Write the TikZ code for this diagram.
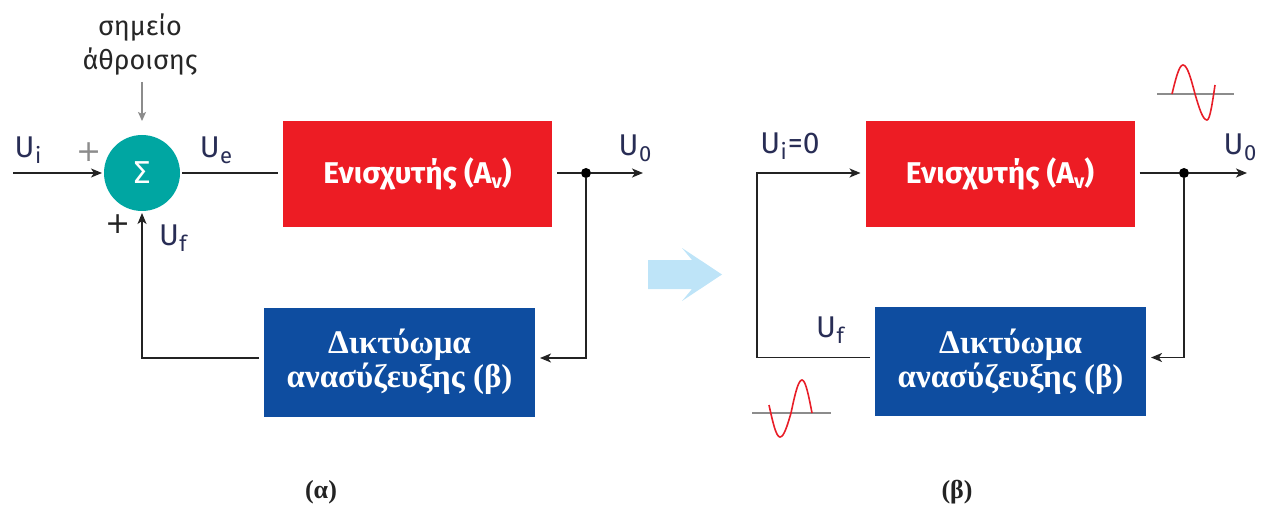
\documentclass[tikz,border=0pt]{standalone}
\usepackage{fontspec}
\setmainfont{Fira Sans}
\newfontfamily\serifgr{Liberation Serif}
\newfontfamily\symfont{DejaVu Sans}
\usetikzlibrary{arrows.meta,calc}

\definecolor{ampred}{RGB}{237,28,36}
\definecolor{netblue}{RGB}{14,77,160}
\definecolor{sumteal}{RGB}{0,166,162}
\definecolor{hintblue}{RGB}{190,228,248}
\definecolor{lblcol}{RGB}{40,45,85}
\definecolor{wirecol}{RGB}{35,35,35}
\definecolor{wavered}{RGB}{232,30,40}
\definecolor{axisgray}{RGB}{140,140,140}

% signal name with a lowered subscript
\newcommand{\Usig}[1]{U\kern0.5pt\raisebox{-6pt}{\fontsize{22}{22}\selectfont #1}}

\begin{document}
\begin{tikzpicture}[x=1pt,y=-1pt,
  wire/.style={draw=wirecol, line width=1.8pt},
  arr/.style={wire, -{Stealth[length=11pt,width=9pt,inset=3pt]}},
  ampbox/.style={rectangle, fill=ampred, text=white, minimum width=269pt,
    minimum height=106pt, outer sep=5pt, inner sep=0pt,
    font=\bfseries\fontsize{30}{30}\selectfont},
  netbox/.style={rectangle, fill=netblue, text=white, minimum width=271pt,
    minimum height=109pt, outer sep=5pt, inner sep=0pt, align=center,
    font=\serifgr\bfseries\fontsize{33}{34}\selectfont},
  sig/.style={text=lblcol, font=\fontsize{30}{30}\selectfont, inner sep=0pt},
  plus/.style={font=\symfont\fontsize{30}{30}\selectfont, inner sep=0pt},
  tag/.style={text=wirecol, font=\serifgr\bfseries\fontsize{26}{26}\selectfont},
  junction/.style={circle, fill=black, minimum size=10pt, inner sep=0pt},
  sine/.style={draw=wavered, line width=1.6pt},
  waveaxis/.style={draw=axisgray, line width=1.6pt}]

\useasboundingbox (0,0) rectangle (1266,513);

% ---------------- (a) closed loop with summing point ----------------
\node[circle, fill=sumteal, minimum size=76pt, inner sep=0pt, outer sep=2pt,
      text=white, font=\symfont\fontsize{30}{30}\selectfont] (sum) at (142,173) {Σ};
\node[text=black!85, align=center, inner sep=0pt,
      font=\fontsize{27}{34}\selectfont] (sumlbl) at (140,45) {σημείο\\άθροισης};
\draw[draw=axisgray, line width=1.4pt, -{Stealth[length=9pt,width=8pt,inset=2pt]},
      shorten <=6pt, shorten >=12pt] (sumlbl.south -| sum.north) -- (sum.north);

\node[ampbox] (amp1) at (417.5,174) {Ενισχυτής (A\raisebox{-5pt}{\fontsize{20}{20}\selectfont v})};
\node[netbox] (net1) at (399.5,362) {Δικτύωμα\\ανασύζευξης (β)};

\coordinate (in1) at (13,173);
\coordinate (out1) at (643,173);
\node[junction] (j1) at (586,173) {};

\draw[arr] (in1) -- (sum.west);
\draw[wire] (sum.east) -- (sum.east -| amp1.west);
\draw[wire] (amp1.east |- j1) -- (j1);
\draw[arr] (j1) -- (out1);
\draw[arr] (j1) |- ([yshift=4pt]net1.east);
\draw[arr] ([yshift=4pt]net1.west) -| (sum.south);

\node[sig] (ui) at (28,150) {\Usig{i}};
\node[plus, text=axisgray] (p1) at (89,152) {+};
\node[sig] (ue) at (216,150) {\Usig{e}};
\node[sig] (u0a) at (635,148) {\Usig{0}};
\node[plus, text=wirecol] (p2) at (118,224) {+};
\node[sig] (ufa) at (173,238) {\Usig{f}};

\node[tag] (capa) at (321,492) {(α)};

% ---------------- transition arrow ----------------
\fill[hintblue] (648,260) -- (692,260) -- (682,248) -- (722,274.5)
  -- (682,301) -- (692,289) -- (648,289) -- cycle;

% ---------------- (b) loop with zero input ----------------
\node[ampbox] (amp2) at (1000,174) {Ενισχυτής (A\raisebox{-5pt}{\fontsize{20}{20}\selectfont v})};
\node[netbox] (net2) at (1010.5,361.5) {Δικτύωμα\\ανασύζευξης (β)};

\coordinate (c2) at (757,173);
\coordinate (out2) at (1247,173);
\node[junction] (j2) at (1184,173) {};

\draw[wire] (amp2.east |- j2) -- (j2);
\draw[arr] (j2) -- (out2);
\draw[arr] (j2) |- ([yshift=4pt]net2.east);
\draw[arr] ([yshift=4pt]net2.west) -| (c2) -- (c2 -| amp2.west);

\node[sig] (ui0) at (790,146) {\Usig{i}\kern1pt=0};
\node[sig] (u0b) at (1240,147) {\Usig{0}};
\node[sig] (ufb) at (830,330) {\Usig{f}};

\node[tag] (capb) at (957,492) {(β)};

% output waveform
\draw[waveaxis] (1157,94) -- (1234,94);
\draw[sine] (1172,94) sin (1183,65) cos (1195,94) sin (1207,120) cos (1215,85);

% feedback waveform
\draw[waveaxis] (752,413) -- (831,413);
\draw[sine] (769,405) sin (780,437) cos (791,413) sin (802,380) cos (812,413);

\end{tikzpicture}
\end{document}
